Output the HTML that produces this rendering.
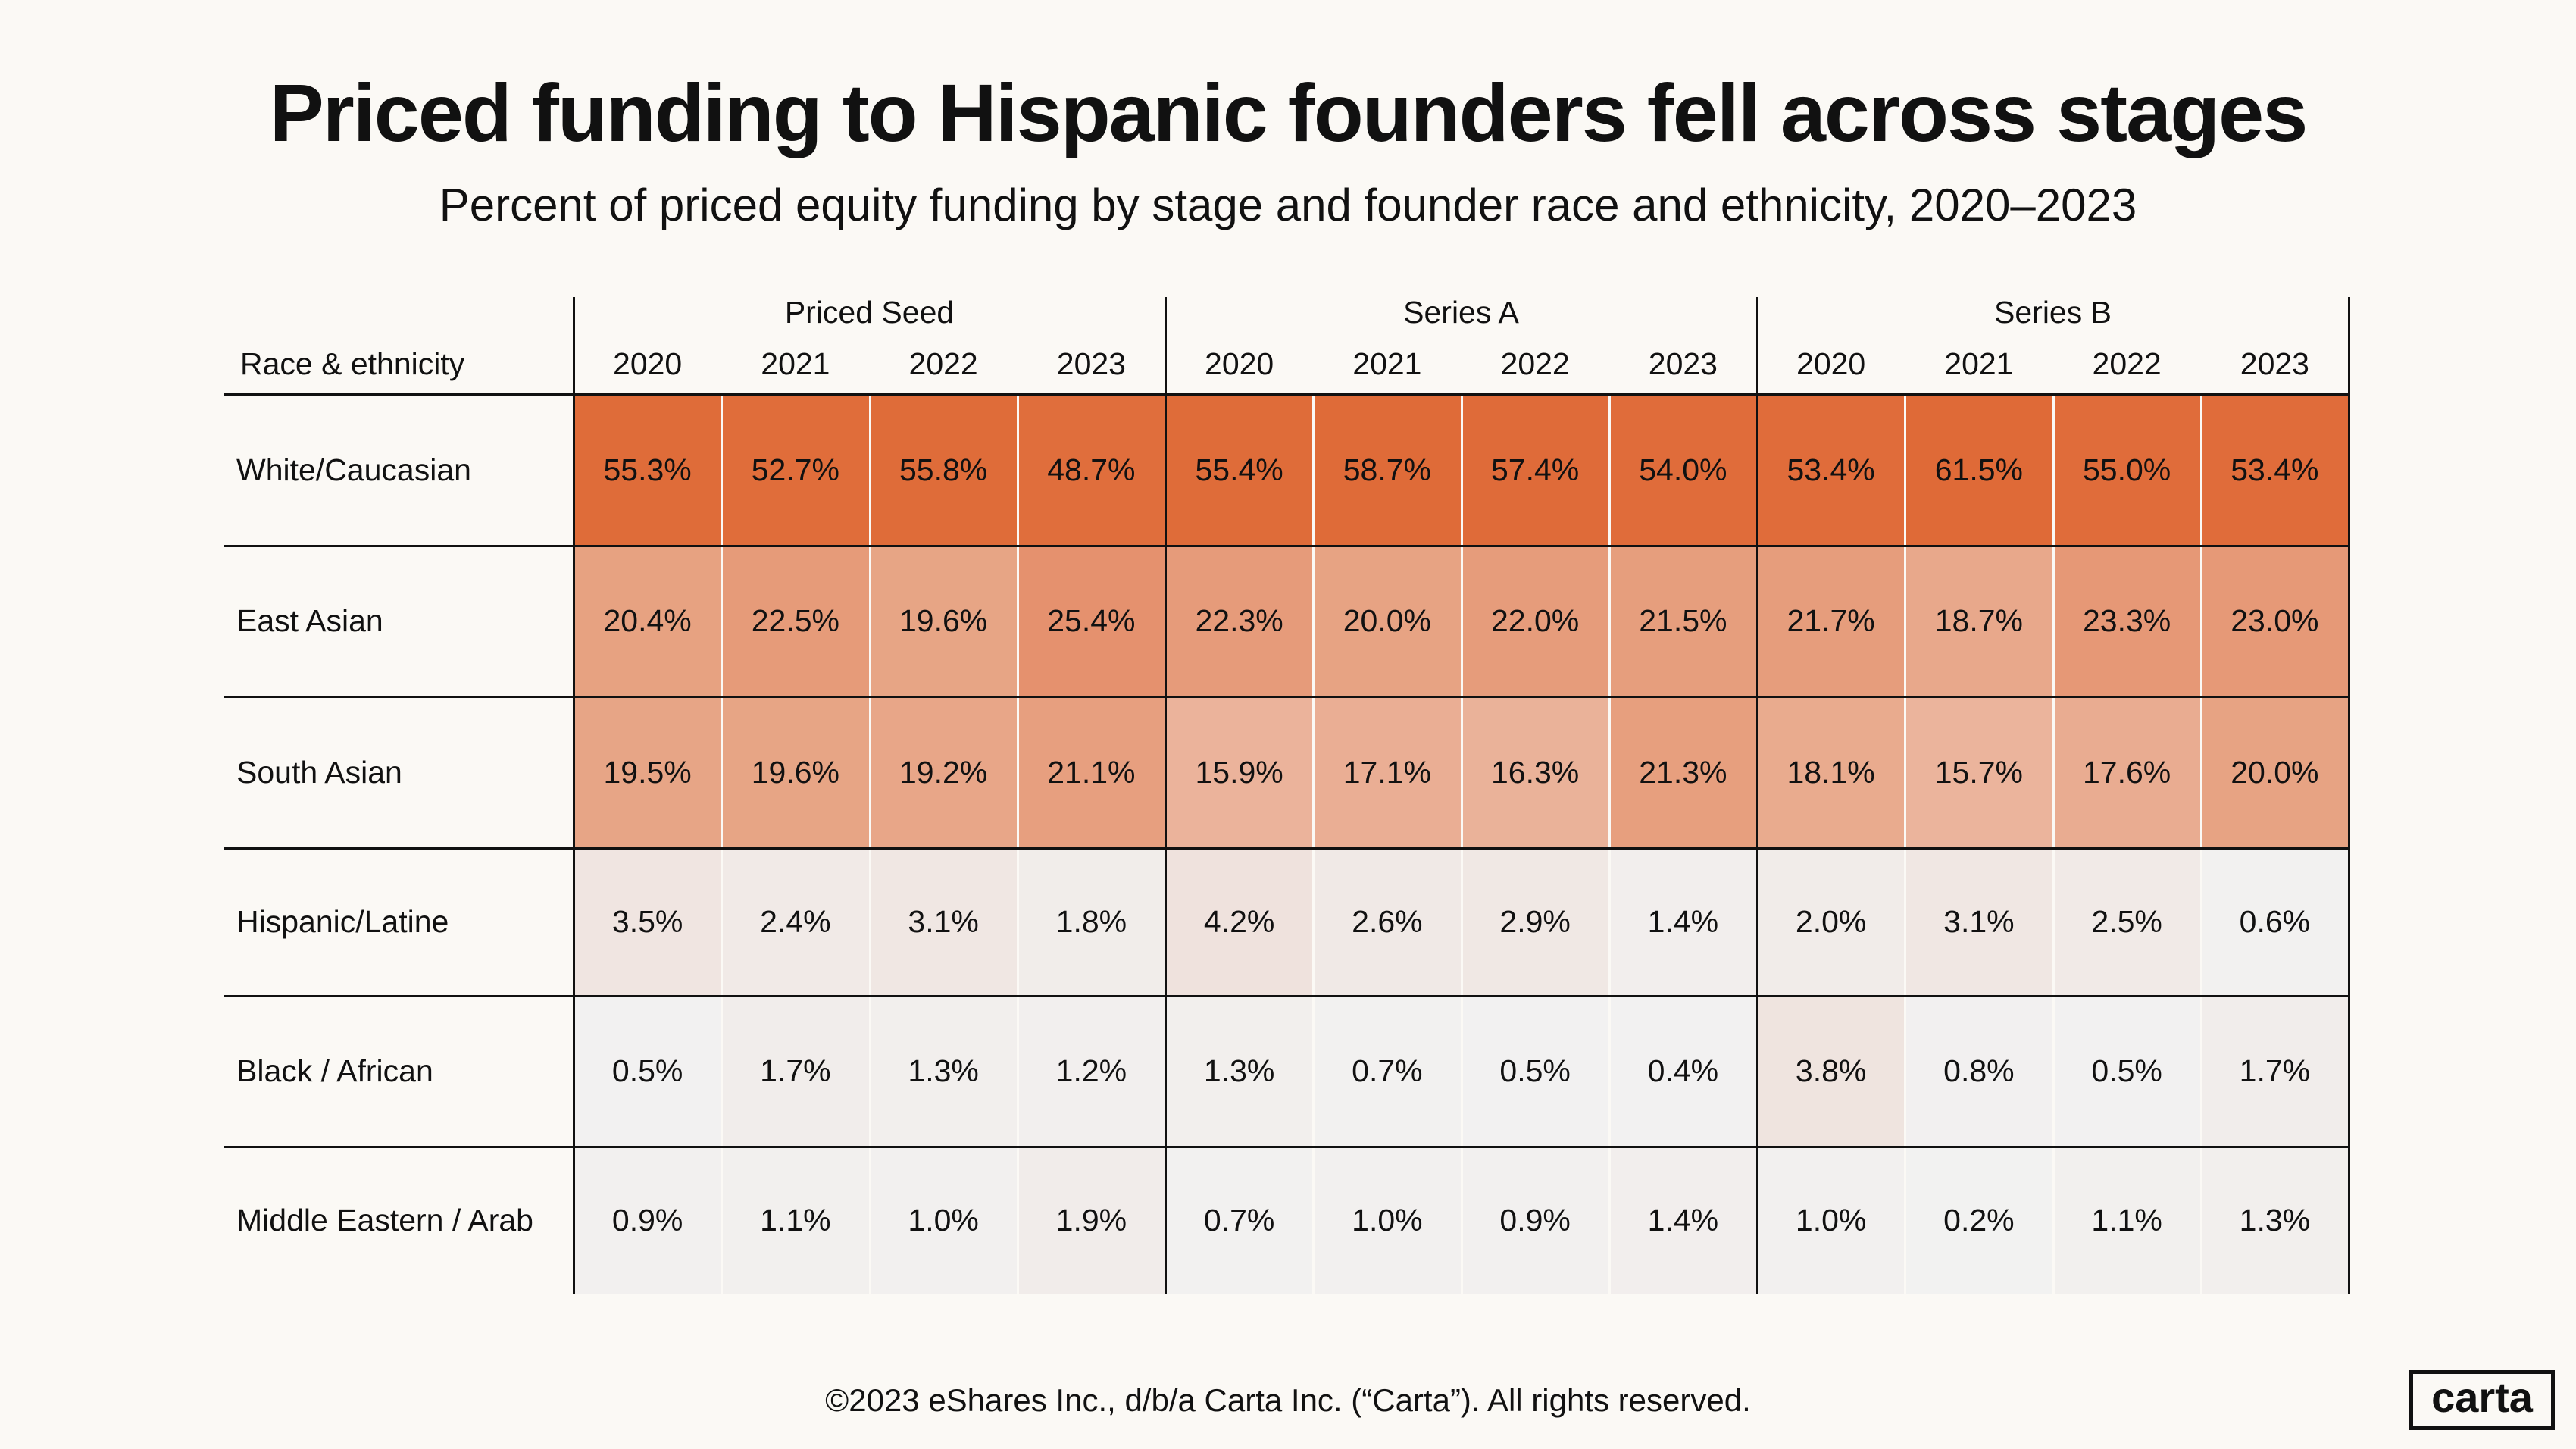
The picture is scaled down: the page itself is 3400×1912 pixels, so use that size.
<!DOCTYPE html>
<html><head><meta charset="utf-8"><style>
body{margin:0;width:3400px;height:1912px;background:#FBF9F5;font-family:"Liberation Sans",sans-serif;color:#111;position:relative;overflow:hidden}
.a{position:absolute}
.t{position:absolute;left:0;width:3400px;text-align:center}
.c{position:absolute;display:flex;align-items:center;justify-content:center;font-size:41px}
.l{position:absolute;font-size:41px;display:flex;align-items:center}
</style></head><body>
<div class="t" style="top:86px;font-size:108px;font-weight:bold;letter-spacing:-2px">Priced funding to Hispanic founders fell across stages</div>
<div class="t" style="top:236px;font-size:60px">Percent of priced equity funding by stage and founder race and ethnicity, 2020–2023</div>
<div class="t" style="top:1824px;font-size:42px">©2023 eShares Inc., d/b/a Carta Inc. (“Carta”). All rights reserved.</div>
<div class="a" style="left:3180px;top:1808px;width:182px;height:69px;border:5px solid #111;font-size:56px;font-weight:bold;text-align:center;line-height:62px">carta</div>
<div id="g"></div>
<script>
const rows=["White/Caucasian","East Asian","South Asian","Hispanic/Latine","Black / African","Middle Eastern / Arab"];
const d=[[55.3,52.7,55.8,48.7,55.4,58.7,57.4,54.0,53.4,61.5,55.0,53.4],
[20.4,22.5,19.6,25.4,22.3,20.0,22.0,21.5,21.7,18.7,23.3,23.0],
[19.5,19.6,19.2,21.1,15.9,17.1,16.3,21.3,18.1,15.7,17.6,20.0],
[3.5,2.4,3.1,1.8,4.2,2.6,2.9,1.4,2.0,3.1,2.5,0.6],
[0.5,1.7,1.3,1.2,1.3,0.7,0.5,0.4,3.8,0.8,0.5,1.7],
[0.9,1.1,1.0,1.9,0.7,1.0,0.9,1.4,1.0,0.2,1.1,1.3]];
const st=[[0,[242,242,242]],[1,[242,240,239]],[4,[239,227,222]],[15.7,[235,180,156]],[20,[231,163,131]],[25.4,[229,145,110]],[48,[224,110,60]],[62,[223,106,55]]];
function col(v){for(let i=1;i<st.length;i++){if(v<=st[i][0]){const [a,ca]=st[i-1],[b,cb]=st[i];const f=(v-a)/(b-a);return `rgb(${ca.map((x,k)=>Math.round(x+(cb[k]-x)*f)).join(',')})`}}return 'rgb(223,106,55)';}
const X0=757,W=195.25,Y=[520,720,919,1119,1314,1513,1708];
let h='';
h+=`<div class="l" style="left:317px;top:450px;height:60px">Race &amp; ethnicity</div>`;
["Priced Seed","Series A","Series B"].forEach((g,i)=>{h+=`<div class="c" style="left:${X0+i*4*W}px;top:382px;width:${4*W}px;height:60px">${g}</div>`;});
for(let j=0;j<12;j++)h+=`<div class="c" style="left:${X0+j*W}px;top:450px;width:${W}px;height:60px">${2020+j%4}</div>`;
rows.forEach((r,i)=>{
 h+=`<div class="l" style="left:312px;top:${Y[i]}px;height:${Y[i+1]-Y[i]}px">${r}</div>`;
 d[i].forEach((v,j)=>{h+=`<div class="c" style="left:${X0+j*W}px;top:${Y[i]}px;width:${W}px;height:${Y[i+1]-Y[i]}px;background:${col(v)}">${v.toFixed(1)}%</div>`;});
});
for(let j=1;j<12;j++)if(j%4)h+=`<div class="a" style="left:${X0+j*W-1}px;top:520px;width:3px;height:1188px;background:#FBF9F5"></div>`;
for(let i=0;i<6;i++)h+=`<div class="a" style="left:295px;top:${Y[i]-1}px;width:2805px;height:3px;background:#111"></div>`;
for(let g=0;g<4;g++)h+=`<div class="a" style="left:${X0+g*4*W-1}px;top:392px;width:3px;height:1316px;background:#111"></div>`;
document.getElementById('g').innerHTML=h;
</script>
</body></html>
